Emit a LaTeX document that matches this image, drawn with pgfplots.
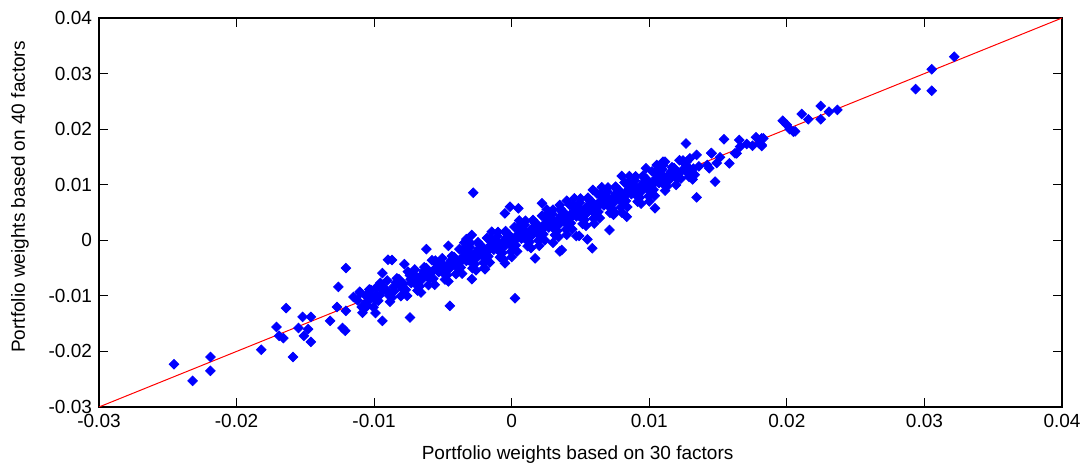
\documentclass[border=0pt]{standalone}
\usepackage{fontspec}
\setmainfont{Liberation Sans}
\usepackage{pgfplots}
\pgfplotsset{compat=1.18}
\begin{document}
\begin{tikzpicture}
\begin{axis}[
  scale only axis, width=481.5pt, height=194.5pt,
  xmin=-0.03, xmax=0.04, ymin=-0.03, ymax=0.04,
  xtick={-0.03,-0.02,-0.01,0,0.01,0.02,0.03,0.04},
  ytick={-0.03,-0.02,-0.01,0,0.01,0.02,0.03,0.04},
  xticklabels={-0.03,-0.02,-0.01,0,0.01,0.02,0.03,0.04},
  yticklabels={-0.03,-0.02,-0.01,0,0.01,0.02,0.03,0.04},
  scaled ticks=false,
  tick align=inside, major tick length=4.5pt,
  axis line style={line width=0.6pt},
  tick style={black, line width=0.6pt},
  ticklabel style={font=\fontsize{9.5}{11}\selectfont},
  label style={font=\fontsize{9.5}{11}\selectfont},
  xlabel={Portfolio weights based on 30 factors},
  ylabel={Portfolio weights based on 40 factors},
  xlabel style={at={(axis description cs:0.497,-0.122)}, anchor=center},
  ylabel style={at={(axis description cs:-0.082,0.54)}, anchor=center},
]
\addplot[only marks, mark=square*, mark size=1.7pt, mark options={rotate=45, draw=blue, fill=blue}]
table[row sep=\\] {
x y\\
-10.9e-3 -12.0e-3\\ -11.2e-3 -10.8e-3\\ -10.85e-3 -13.05e-3\\ -11.05e-3 -9.25e-3\\
-10.4e-3 -9.6e-3\\ -10.7e-3 -12.3e-3\\ -10.35e-3 -8.85e-3\\ -10.55e-3 -11.15e-3\\
-9.9e-3 -10.8e-3\\ -10.2e-3 -9.0e-3\\ -9.85e-3 -9.85e-3\\ -10.05e-3 -12.05e-3\\
-9.4e-3 -8.3e-3\\ -9.7e-3 -10.9e-3\\ -9.35e-3 -9.05e-3\\ -9.55e-3 -7.65e-3\\
-8.9e-3 -10.0e-3\\ -9.2e-3 -8.8e-3\\ -8.85e-3 -11.05e-3\\ -9.05e-3 -7.25e-3\\
-8.4e-3 -7.6e-3\\ -8.7e-3 -10.3e-3\\ -8.35e-3 -6.85e-3\\ -8.55e-3 -9.15e-3\\
-7.9e-3 -8.8e-3\\ -8.2e-3 -7.0e-3\\ -7.85e-3 -7.85e-3\\ -8.05e-3 -10.05e-3\\
-7.4e-3 -6.3e-3\\ -7.7e-3 -8.9e-3\\ -7.35e-3 -7.05e-3\\ -7.55e-3 -5.65e-3\\ -7.3e-3 -7.7e-3\\ -7.6e-3 -10.0e-3\\
-6.9e-3 -8.0e-3\\ -7.2e-3 -6.8e-3\\ -6.85e-3 -9.05e-3\\ -7.05e-3 -5.25e-3\\ -6.8e-3 -7.1e-3\\ -7.1e-3 -6.1e-3\\
-6.4e-3 -5.6e-3\\ -6.7e-3 -8.3e-3\\ -6.35e-3 -4.85e-3\\ -6.55e-3 -7.15e-3\\ -6.3e-3 -6.2e-3\\ -6.6e-3 -9.4e-3\\
-5.9e-3 -6.8e-3\\ -6.2e-3 -5.0e-3\\ -5.85e-3 -5.85e-3\\ -6.05e-3 -8.05e-3\\ -5.8e-3 -3.6e-3\\ -6.1e-3 -5.6e-3\\
-5.4e-3 -4.3e-3\\ -5.7e-3 -6.9e-3\\ -5.35e-3 -5.05e-3\\ -5.55e-3 -3.65e-3\\ -5.3e-3 -5.7e-3\\ -5.6e-3 -8.0e-3\\
-4.9e-3 -6.0e-3\\ -5.2e-3 -4.8e-3\\ -4.85e-3 -7.05e-3\\ -5.05e-3 -3.25e-3\\ -4.8e-3 -5.1e-3\\ -5.1e-3 -4.1e-3\\
-4.4e-3 -3.6e-3\\ -4.7e-3 -6.3e-3\\ -4.35e-3 -2.85e-3\\ -4.55e-3 -5.15e-3\\ -4.3e-3 -4.2e-3\\ -4.6e-3 -7.4e-3\\
-3.9e-3 -4.8e-3\\ -4.2e-3 -3.0e-3\\ -3.85e-3 -3.85e-3\\ -4.05e-3 -6.05e-3\\ -3.8e-3 -1.6e-3\\ -4.1e-3 -3.6e-3\\
-3.4e-3 -2.3e-3\\ -3.7e-3 -4.9e-3\\ -3.35e-3 -3.05e-3\\ -3.55e-3 -1.65e-3\\ -3.3e-3 -3.7e-3\\ -3.6e-3 -6.0e-3\\ -3.45e-3 -0.45e-3\\ -3.65e-3 -3.75e-3\\ -3.5e-3 -2.8e-3\\
-2.9e-3 -4.0e-3\\ -3.2e-3 -2.8e-3\\ -2.85e-3 -5.05e-3\\ -3.05e-3 -1.25e-3\\ -2.8e-3 -3.1e-3\\ -3.1e-3 -2.1e-3\\ -2.95e-3 -3.65e-3\\ -3.15e-3 -2.95e-3\\ -3.0e-3 -0.5e-3\\
-2.4e-3 -1.6e-3\\ -2.7e-3 -4.3e-3\\ -2.35e-3 -0.85e-3\\ -2.55e-3 -3.15e-3\\ -2.3e-3 -2.2e-3\\ -2.6e-3 -5.4e-3\\ -2.45e-3 -0.35e-3\\ -2.65e-3 -2.85e-3\\ -2.5e-3 -1.9e-3\\
-1.9e-3 -2.8e-3\\ -2.2e-3 -1.0e-3\\ -1.85e-3 -1.85e-3\\ -2.05e-3 -4.05e-3\\ -1.8e-3 0.4e-3\\ -2.1e-3 -1.6e-3\\ -1.95e-3 -3.25e-3\\ -2.15e-3 -1.25e-3\\ -2.0e-3 -5.0e-3\\
-1.4e-3 -0.3e-3\\ -1.7e-3 -2.9e-3\\ -1.35e-3 -1.05e-3\\ -1.55e-3 0.35e-3\\ -1.3e-3 -1.7e-3\\ -1.6e-3 -4.0e-3\\ -1.45e-3 1.55e-3\\ -1.65e-3 -1.75e-3\\ -1.5e-3 -0.8e-3\\
-0.9e-3 -2.0e-3\\ -1.2e-3 -0.8e-3\\ -0.85e-3 -3.05e-3\\ -1.05e-3 0.75e-3\\ -0.8e-3 -1.1e-3\\ -1.1e-3 -0.1e-3\\ -0.95e-3 -1.65e-3\\ -1.15e-3 -0.95e-3\\ -1.0e-3 1.5e-3\\
-0.4e-3 0.4e-3\\ -0.7e-3 -2.3e-3\\ -0.35e-3 1.15e-3\\ -0.55e-3 -1.15e-3\\ -0.3e-3 -0.2e-3\\ -0.6e-3 -3.4e-3\\ -0.45e-3 1.65e-3\\ -0.65e-3 -0.85e-3\\ -0.5e-3 0.1e-3\\
0.1e-3 -0.8e-3\\ -0.2e-3 1.0e-3\\ 0.15e-3 0.15e-3\\ -0.05e-3 -2.05e-3\\ 0.2e-3 2.4e-3\\ -0.1e-3 0.4e-3\\ 0.05e-3 -1.25e-3\\ -0.15e-3 0.75e-3\\ 0.0 -3.0e-3\\
0.6e-3 1.7e-3\\ 0.3e-3 -0.9e-3\\ 0.65e-3 0.95e-3\\ 0.45e-3 2.35e-3\\ 0.7e-3 0.3e-3\\ 0.4e-3 -2.0e-3\\ 0.55e-3 3.55e-3\\ 0.35e-3 0.25e-3\\ 0.5e-3 1.2e-3\\
1.1e-3 0.0\\ 0.8e-3 1.2e-3\\ 1.15e-3 -1.05e-3\\ 0.95e-3 2.75e-3\\ 1.2e-3 0.9e-3\\ 0.9e-3 1.9e-3\\ 1.05e-3 0.35e-3\\ 0.85e-3 1.05e-3\\ 1.0e-3 3.5e-3\\
1.6e-3 2.4e-3\\ 1.3e-3 -0.3e-3\\ 1.65e-3 3.15e-3\\ 1.45e-3 0.85e-3\\ 1.7e-3 1.8e-3\\ 1.4e-3 -1.4e-3\\ 1.55e-3 3.65e-3\\ 1.35e-3 1.15e-3\\ 1.5e-3 2.1e-3\\
2.1e-3 1.2e-3\\ 1.8e-3 3.0e-3\\ 2.15e-3 2.15e-3\\ 1.95e-3 -0.05e-3\\ 2.2e-3 4.4e-3\\ 1.9e-3 2.4e-3\\ 2.05e-3 0.75e-3\\ 1.85e-3 2.75e-3\\ 2.0e-3 -1.0e-3\\
2.6e-3 3.7e-3\\ 2.3e-3 1.1e-3\\ 2.65e-3 2.95e-3\\ 2.45e-3 4.35e-3\\ 2.7e-3 2.3e-3\\ 2.4e-3 0.0\\ 2.55e-3 5.55e-3\\ 2.35e-3 2.25e-3\\ 2.5e-3 3.2e-3\\
3.1e-3 2.0e-3\\ 2.8e-3 3.2e-3\\ 3.15e-3 0.95e-3\\ 2.95e-3 4.75e-3\\ 3.2e-3 2.9e-3\\ 2.9e-3 3.9e-3\\ 3.05e-3 2.35e-3\\ 2.85e-3 3.05e-3\\ 3.0e-3 5.5e-3\\
3.6e-3 4.4e-3\\ 3.3e-3 1.7e-3\\ 3.65e-3 5.15e-3\\ 3.45e-3 2.85e-3\\ 3.7e-3 3.8e-3\\ 3.4e-3 0.6e-3\\ 3.55e-3 5.65e-3\\ 3.35e-3 3.15e-3\\ 3.5e-3 4.1e-3\\
4.1e-3 3.2e-3\\ 3.8e-3 5.0e-3\\ 4.15e-3 4.15e-3\\ 3.95e-3 1.95e-3\\ 4.2e-3 6.4e-3\\ 3.9e-3 4.4e-3\\ 4.05e-3 2.75e-3\\ 3.85e-3 4.75e-3\\ 4.0e-3 1.0e-3\\
4.6e-3 5.7e-3\\ 4.3e-3 3.1e-3\\ 4.65e-3 4.95e-3\\ 4.45e-3 6.35e-3\\ 4.7e-3 4.3e-3\\ 4.4e-3 2.0e-3\\ 4.55e-3 7.55e-3\\ 4.35e-3 4.25e-3\\ 4.5e-3 5.2e-3\\
5.1e-3 4.0e-3\\ 4.8e-3 5.2e-3\\ 5.15e-3 2.95e-3\\ 4.95e-3 6.75e-3\\ 5.2e-3 4.9e-3\\ 4.9e-3 5.9e-3\\ 5.05e-3 4.35e-3\\ 4.85e-3 5.05e-3\\ 5.0e-3 7.5e-3\\
5.6e-3 6.4e-3\\ 5.3e-3 3.7e-3\\ 5.65e-3 7.15e-3\\ 5.45e-3 4.85e-3\\ 5.7e-3 5.8e-3\\ 5.4e-3 2.6e-3\\ 5.55e-3 7.65e-3\\ 5.35e-3 5.15e-3\\ 5.5e-3 6.1e-3\\
6.1e-3 5.2e-3\\ 5.8e-3 7.0e-3\\ 6.15e-3 6.15e-3\\ 5.95e-3 3.95e-3\\ 6.2e-3 8.4e-3\\ 5.9e-3 6.4e-3\\ 6.05e-3 4.75e-3\\ 5.85e-3 6.75e-3\\ 6.0e-3 3.0e-3\\
6.6e-3 7.7e-3\\ 6.3e-3 5.1e-3\\ 6.65e-3 6.95e-3\\ 6.45e-3 8.35e-3\\ 6.7e-3 6.3e-3\\ 6.4e-3 4.0e-3\\ 6.55e-3 9.55e-3\\ 6.35e-3 6.25e-3\\ 6.5e-3 7.2e-3\\
7.1e-3 6.0e-3\\ 6.8e-3 7.2e-3\\ 7.15e-3 4.95e-3\\ 6.95e-3 8.75e-3\\ 7.2e-3 6.9e-3\\ 6.9e-3 7.9e-3\\ 7.05e-3 6.35e-3\\ 6.85e-3 7.05e-3\\ 7.0e-3 9.5e-3\\
7.6e-3 8.4e-3\\ 7.3e-3 5.7e-3\\ 7.65e-3 9.15e-3\\ 7.45e-3 6.85e-3\\ 7.7e-3 7.8e-3\\ 7.4e-3 4.6e-3\\ 7.55e-3 9.65e-3\\ 7.35e-3 7.15e-3\\ 7.5e-3 8.1e-3\\
8.1e-3 7.2e-3\\ 7.8e-3 9.0e-3\\ 8.15e-3 8.15e-3\\ 7.95e-3 5.95e-3\\ 8.2e-3 10.4e-3\\ 7.9e-3 8.4e-3\\ 8.05e-3 6.75e-3\\ 7.85e-3 8.75e-3\\ 8.0e-3 5.0e-3\\
8.6e-3 9.7e-3\\ 8.3e-3 7.1e-3\\ 8.65e-3 8.95e-3\\ 8.45e-3 10.35e-3\\ 8.7e-3 8.3e-3\\ 8.4e-3 6.0e-3\\ 8.55e-3 11.55e-3\\ 8.35e-3 8.25e-3\\ 8.5e-3 9.2e-3\\
9.1e-3 8.0e-3\\ 8.8e-3 9.2e-3\\ 9.15e-3 6.95e-3\\ 8.95e-3 10.75e-3\\ 9.2e-3 8.9e-3\\ 8.9e-3 9.9e-3\\ 9.05e-3 8.35e-3\\ 8.85e-3 9.05e-3\\ 9.0e-3 11.5e-3\\
9.6e-3 10.4e-3\\ 9.3e-3 7.7e-3\\ 9.65e-3 11.15e-3\\ 9.45e-3 8.85e-3\\ 9.7e-3 9.8e-3\\ 9.4e-3 6.6e-3\\ 9.55e-3 11.65e-3\\ 9.35e-3 9.15e-3\\ 9.5e-3 10.1e-3\\
10.1e-3 9.2e-3\\ 9.8e-3 11.0e-3\\ 10.15e-3 10.15e-3\\ 9.95e-3 7.95e-3\\ 10.2e-3 12.4e-3\\ 9.9e-3 10.4e-3\\ 10.05e-3 8.75e-3\\ 9.85e-3 10.75e-3\\ 10.0e-3 7.0e-3\\
10.6e-3 11.7e-3\\ 10.3e-3 9.1e-3\\ 10.65e-3 10.95e-3\\ 10.45e-3 12.35e-3\\ 10.7e-3 10.3e-3\\ 10.4e-3 8.0e-3\\ 10.55e-3 13.55e-3\\ 10.35e-3 10.25e-3\\ 10.5e-3 11.2e-3\\
11.1e-3 10.0e-3\\ 10.8e-3 11.2e-3\\ 11.15e-3 8.95e-3\\ 10.95e-3 12.75e-3\\ 11.2e-3 10.9e-3\\ 10.9e-3 11.9e-3\\ 11.05e-3 10.35e-3\\ 10.85e-3 11.05e-3\\ 11.0e-3 13.5e-3\\
11.6e-3 12.4e-3\\ 11.3e-3 9.7e-3\\ 11.65e-3 13.15e-3\\ 11.45e-3 10.85e-3\\ 11.7e-3 11.8e-3\\
12.1e-3 11.2e-3\\ 11.8e-3 13.0e-3\\ 12.15e-3 12.15e-3\\ 11.95e-3 9.95e-3\\ 12.2e-3 14.4e-3\\
12.6e-3 13.7e-3\\ 12.3e-3 11.1e-3\\ 12.65e-3 12.95e-3\\ 12.45e-3 14.35e-3\\ 12.7e-3 12.3e-3\\
13.1e-3 12.0e-3\\ 12.8e-3 13.2e-3\\ 13.15e-3 10.95e-3\\ 12.95e-3 14.75e-3\\ 13.2e-3 12.9e-3\\
-10.2e-3 -10.3e-3\\ -9.6e-3 -9.9e-3\\ -9.0e-3 -9.4e-3\\ -8.6e-3 -8.4e-3\\ -10.6e-3 -10.0e-3\\
-8.1e-3 -8.3e-3\\ -7.1e-3 -7.6e-3\\ -6.6e-3 -6.4e-3\\ -6.1e-3 -6.6e-3\\ -5.6e-3 -5.2e-3\\
-5.1e-3 -5.6e-3\\ -4.6e-3 -4.3e-3\\ -4.1e-3 -4.5e-3\\ -3.6e-3 -3.3e-3\\ -3.1e-3 -3.6e-3\\
-2.6e-3 -2.3e-3\\ -2.1e-3 -2.6e-3\\ -1.6e-3 -1.4e-3\\ -1.1e-3 -1.5e-3\\ -0.6e-3 -0.3e-3\\
-0.1e-3 -0.6e-3\\ 0.4e-3 0.7e-3\\ 0.9e-3 0.5e-3\\ 1.4e-3 1.7e-3\\ 1.9e-3 1.5e-3\\
2.4e-3 2.8e-3\\ 2.9e-3 2.5e-3\\ 3.4e-3 3.7e-3\\ 3.9e-3 3.5e-3\\ 4.4e-3 4.8e-3\\
4.9e-3 4.4e-3\\ 5.4e-3 5.7e-3\\ 5.9e-3 5.4e-3\\ 6.4e-3 6.8e-3\\ 6.9e-3 6.5e-3\\
7.4e-3 7.7e-3\\ 7.9e-3 7.4e-3\\ 8.4e-3 8.8e-3\\ 8.9e-3 8.5e-3\\ 9.4e-3 9.7e-3\\
9.9e-3 9.5e-3\\ 10.4e-3 10.7e-3\\ 10.9e-3 10.4e-3\\ 11.4e-3 11.7e-3\\ 11.9e-3 11.4e-3\\
12.4e-3 12.6e-3\\
-24.55e-3 -22.3e-3\\ -23.2e-3 -25.3e-3\\ -21.9e-3 -21.0e-3\\ -21.9e-3 -23.5e-3\\ -18.2e-3 -19.7e-3\\
-17.1e-3 -15.6e-3\\ -16.4e-3 -12.2e-3\\ -16.9e-3 -17.2e-3\\ -16.6e-3 -17.6e-3\\ -15.9e-3 -21.0e-3\\
-15.2e-3 -13.8e-3\\ -14.6e-3 -13.8e-3\\ -15.5e-3 -15.8e-3\\ -14.8e-3 -16.0e-3\\ -15.1e-3 -17.2e-3\\
-14.6e-3 -18.3e-3\\ -13.2e-3 -14.5e-3\\ -12.7e-3 -12.0e-3\\ -12.6e-3 -8.4e-3\\ -12.05e-3 -5.0e-3\\
-12.05e-3 -12.7e-3\\ -12.3e-3 -15.8e-3\\ -12.1e-3 -16.3e-3\\ -11.5e-3 -10.2e-3\\ -11.0e-3 -9.5e-3\\
-10.5e-3 -11.6e-3\\ -10.3e-3 -8.9e-3\\ -9.8e-3 -8.4e-3\\ -9.9e-3 -13.1e-3\\ -9.4e-3 -14.5e-3\\
-9.4e-3 -5.9e-3\\ -9.0e-3 -3.5e-3\\ -8.7e-3 -3.55e-3\\ -6.2e-3 -1.6e-3\\ -4.6e-3 -1.0e-3\\
-3.3e-3 0.2e-3\\ -2.9e-3 0.95e-3\\ -4.5e-3 -11.8e-3\\ -7.4e-3 -13.9e-3\\ -7.8e-3 -4.3e-3\\
-2.8e-3 8.56e-3\\ 0.24e-3 -10.44e-3\\ -0.5e-3 4.85e-3\\ -0.12e-3 6.04e-3\\ 0.48e-3 5.75e-3\\
2.2e-3 6.65e-3\\ 3.5e-3 6.35e-3\\ 4.0e-3 7.13e-3\\ -2.9e-3 -7.0e-3\\ -1.94e-3 -5.2e-3\\
-0.49e-3 -4.14e-3\\ 1.7e-3 -3.25e-3\\ 3.0e-3 -0.44e-3\\ 3.5e-3 -2.0e-3\\ 4.7e-3 0.77e-3\\
5.9e-3 9.05e-3\\ 8.0e-3 11.57e-3\\ 9.76e-3 12.95e-3\\ 11.0e-3 14.14e-3\\ 10.42e-3 5.76e-3\\
8.36e-3 4.24e-3\\ 7.5e-3 5.0e-3\\ 7.1e-3 1.85e-3\\ 4.9e-3 0.8e-3\\ 5.5e-3 0.18e-3\\
5.86e-3 -1.44e-3\\ 3.63e-3 -1.75e-3\\
12.67e-3 17.4e-3\\ 15.43e-3 18.17e-3\\ 16.54e-3 18.05e-3\\ 17.76e-3 18.53e-3\\ 18.29e-3 18.35e-3\\
16.6e-3 16.85e-3\\ 17.08e-3 17.33e-3\\ 16.23e-3 15.65e-3\\ 15.82e-3 13.85e-3\\ 14.53e-3 15.65e-3\\
14.78e-3 10.55e-3\\ 13.44e-3 7.74e-3\\ 15.14e-3 14.93e-3\\ 14.22e-3 13.55e-3\\ 14.36e-3 12.95e-3\\
12.72e-3 14.14e-3\\ 11.14e-3 14.14e-3\\ 13.44e-3 15.35e-3\\ 14.5e-3 15.7e-3\\ 14.9e-3 13.9e-3\\
13.0e-3 12.5e-3\\ 13.3e-3 11.8e-3\\ 12.9e-3 11.4e-3\\ 13.6e-3 13.3e-3\\ 18.17e-3 17.15e-3\\
16.35e-3 15.65e-3\\ 17.5e-3 17.0e-3\\ 18.0e-3 17.4e-3\\
19.7e-3 21.52e-3\\ 20.0e-3 20.75e-3\\ 20.2e-3 20.0e-3\\ 20.47e-3 19.55e-3\\ 20.6e-3 19.6e-3\\
21.08e-3 22.72e-3\\ 21.56e-3 21.77e-3\\ 22.46e-3 24.16e-3\\ 22.46e-3 21.77e-3\\ 23.06e-3 23.14e-3\\
23.67e-3 23.45e-3\\ 18.17e-3 18.35e-3\\ 18.17e-3 16.97e-3\\
29.36e-3 27.22e-3\\ 30.53e-3 30.77e-3\\ 30.53e-3 26.92e-3\\ 32.17e-3 33.04e-3\\
};
\addplot[red, line width=0.5pt] coordinates {(-0.03,-0.03) (0.04,0.04)};
\end{axis}
\pgfresetboundingbox
\path[use as bounding box] ([xshift=-49.5pt,yshift=-28pt]current axis.south west) rectangle ([xshift=12pt,yshift=9pt]current axis.north east);
\end{tikzpicture}
\end{document}
